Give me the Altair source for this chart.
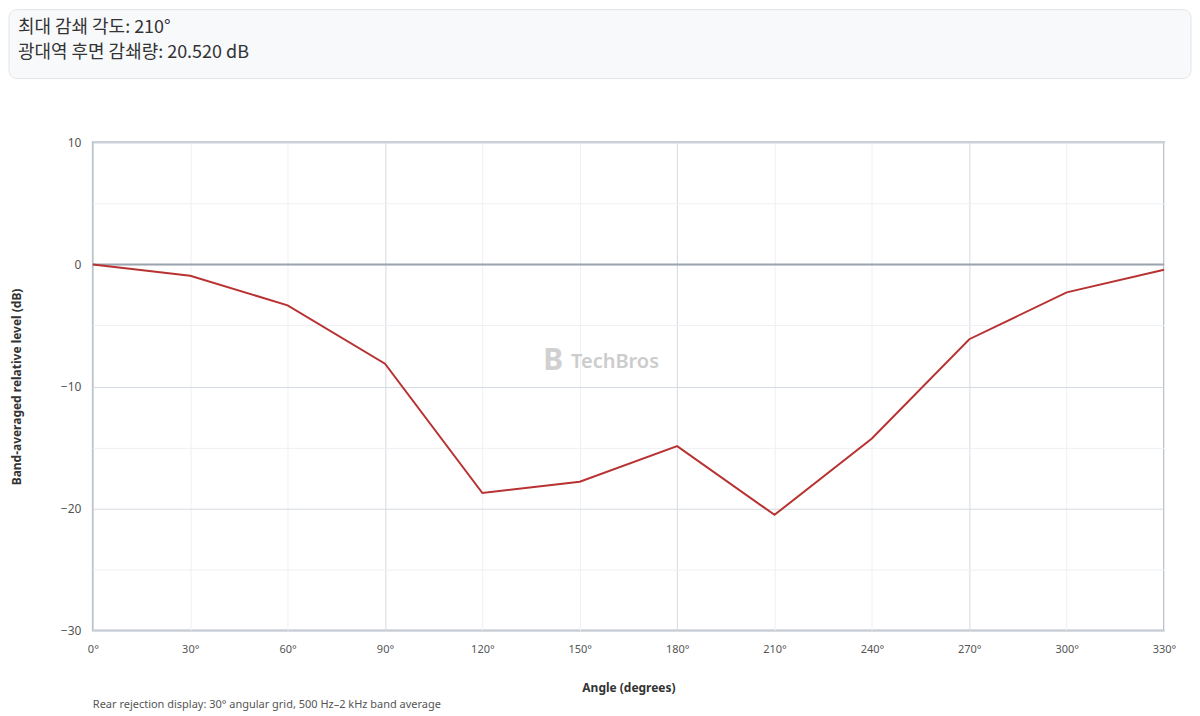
import altair as alt
import pandas as pd

# ---- data ----
angles = [0, 30, 60, 90, 120, 150, 180, 210, 240, 270, 300, 330]
levels = [0.0, -0.93, -3.35, -8.13, -18.73, -17.8, -14.89, -20.52, -14.27, -6.13, -2.29, -0.43]
x_ticks = [0, 30, 60, 90, 120, 150, 180, 210, 240, 270, 300, 330]
y_ticks = [-30, -25, -20, -15, -10, -5, 0, 5, 10]
header_lines = ["최대 감쇄 각도: 210°", "광대역 후면 감쇄량: 20.520 dB"]
footnote = ["Rear rejection display: 30° angular grid, 500 Hz–2 kHz band average"]
watermark = ["TechBros"]

df = pd.DataFrame({"angle": angles, "level": levels})

W, H = 1073, 489
FONT = "Noto Sans"
KFONT = "Noto Sans CJK KR"
LEFT = 84  # distance from page content edge to plot area

x_axis = alt.Axis(
    values=x_ticks,
    labelExpr="datum.value + '°'",
    title="Angle (degrees)",
    ticks=False,
    domain=False,
    labelFlush=False,
    labelPadding=13,
    titlePadding=28,
    labelFontSize=11,
    labelColor="#555555",
    labelFont=FONT,
    titleFont=FONT,
    titleFontSize=12,
    titleFontWeight="bold",
    titleColor="#333333",
    gridColor={"condition": {"test": "datum.value % 90 === 0", "value": "#d5dae0"}, "value": "#eef0f3"},
)
y_axis = alt.Axis(
    values=y_ticks,
    labelExpr="datum.value % 10 === 0 ? datum.label : ''",
    title="Band-averaged relative level (dB)",
    ticks=False,
    domain=False,
    labelFlush=False,
    labelPadding=12,
    titlePadding=37,
    labelFontSize=12,
    labelColor="#555555",
    labelFont=FONT,
    titleFont=FONT,
    titleFontSize=12,
    titleFontWeight="bold",
    titleColor="#333333",
    gridColor={"condition": {"test": "datum.value % 10 === 0", "value": "#d5dae0"}, "value": "#eef0f3"},
)

base = alt.Chart(df)
line = base.mark_line(color="#b83232", strokeWidth=2).encode(
    x=alt.X("angle:Q", scale=alt.Scale(domain=[0, 330], nice=False, zero=False), axis=x_axis),
    y=alt.Y("level:Q", scale=alt.Scale(domain=[-30, 10], nice=False), axis=y_axis),
)
zero = alt.Chart(pd.DataFrame({"z": [0]})).mark_rule(color="#9aa4ae", strokeWidth=2).encode(
    y=alt.Y("z:Q")
)
wm_logo = alt.Chart(pd.DataFrame({"t": ["B"]})).mark_text(
    font=FONT, fontSize=30, fontWeight="bold", color="#d0d0d0", align="center", baseline="middle"
).encode(text="t:N", x=alt.value(461), y=alt.value(219))
wm_text = alt.Chart(pd.DataFrame({"t": watermark})).mark_text(
    font=FONT, fontSize=20, fontWeight=600, color="#cccccc", align="left", baseline="middle"
).encode(text="t:N", x=alt.value(479), y=alt.value(220))
foot = alt.Chart(pd.DataFrame({"t": footnote})).mark_text(
    font=FONT, fontSize=11, color="#555555", align="left", baseline="middle"
).encode(text="t:N", x=alt.value(0), y=alt.value(564))

main = alt.layer(zero, line, wm_logo, wm_text, foot).properties(
    width=W, height=H,
    view=alt.ViewBackground(stroke="#b8c0c8", strokeWidth=2),
)

# ---- header box (drawn relative to the plot-area origin) ----
HH = 69
box = alt.Chart(pd.DataFrame({"a": [0]})).mark_rect(
    cornerRadius=8, fill="#f8f9fb", stroke="#e1e4e8", strokeWidth=1
).encode(x=alt.value(-LEFT), x2=alt.value(1184 - LEFT), y=alt.value(0), y2=alt.value(HH))
h1 = alt.Chart(pd.DataFrame({"t": [header_lines[0]]})).mark_text(
    font=KFONT, fontSize=18, color="#333333", align="left", baseline="middle"
).encode(text="t:N", x=alt.value(-75), y=alt.value(18))
h2 = alt.Chart(pd.DataFrame({"t": [header_lines[1]]})).mark_text(
    font=KFONT, fontSize=18, color="#333333", align="left", baseline="middle"
).encode(text="t:N", x=alt.value(-75), y=alt.value(43))
header = alt.layer(box, h1, h2).properties(
    width=W, height=HH, view=alt.ViewBackground(stroke="transparent")
)

chart = alt.vconcat(header, main, spacing=56).properties(padding=0, background="white").configure_view(
    stroke="transparent"
)

chart.save("out.html", embed_options={"renderer": "svg", "actions": False})
